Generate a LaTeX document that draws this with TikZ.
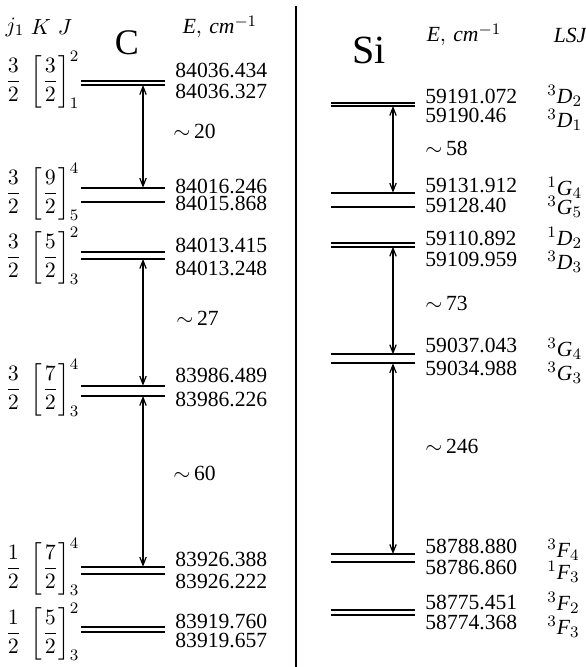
\documentclass[tikz,border=0pt]{standalone}
\usepackage{amsmath}
\usepackage{fontspec}
\setmainfont{Liberation Serif}
\usetikzlibrary{arrows.meta}

\begin{document}
\begin{tikzpicture}[
    x=0.5pt, y=-0.5pt,
    >={Straight Barb[length=4pt,width=3.2pt]},
    font=\fontsize{10.8}{13}\selectfont,
    lvl/.style ={line width=0.85pt},
    arr/.style ={<->, line width=0.6pt},
    en/.style  ={anchor=west, inner sep=0pt},
    gap/.style ={anchor=west, inner sep=0pt},
    term/.style={anchor=west, inner sep=0pt},
    jk/.style  ={anchor=west, inner sep=0pt},
    hdr/.style ={inner sep=0pt},
    big/.style ={inner sep=0pt, font=\fontsize{18}{20}\selectfont},
]
\useasboundingbox (0,0) rectangle (585,667);

% ---- Divider ----
\coordinate (divtop) at (296,6);
\coordinate (divbot) at (296,667);
\draw[line width=1.2pt] (divtop) -- (divbot);

% ---- C: headers ----
\node[hdr] (hj) at (15,27) {$j_1$};
\node[hdr] (hK) at (41,27) {$K$};
\node[hdr] (hJ) at (65,27) {$J$};
\node[big] (elC) at (127,42.5) {C};
\node[hdr] (hdrEC) at (220,27) {$\mathit{E},\,\mathit{cm}^{-1}$};

% ---- C: levels ----
\foreach \y in {80.7,85,187.7,202.3,252.3,259,385.7,396,566.7,574.3,627.3,631.7}
  \draw[lvl] (81,\y) -- (165,\y);

\coordinate (c1) at (143,85);
\coordinate (c2) at (143,187.7);
\coordinate (c3) at (143,259);
\coordinate (c4) at (143,385.7);
\coordinate (c5) at (143,396);
\coordinate (c6) at (143,566.7);

\draw[arr] (c1) -- (c2);
\draw[arr] (c3) -- (c4);
\draw[arr] (c5) -- (c6);

\node[gap] (gC1) at (173,131.7) {$\sim$\,20};
\node[gap] (gC2) at (176,318) {$\sim$\,27};
\node[gap] (gC3) at (173,473) {$\sim$\,60};

% ---- C: coupling labels ----
\node[jk] (jC1) at (5,80)  {$\dfrac{3}{2}\;\left[\dfrac{3}{2}\right]_1^2$};
\node[jk] (jC2) at (5,192) {$\dfrac{3}{2}\;\left[\dfrac{9}{2}\right]_5^4$};
\node[jk] (jC3) at (5,256) {$\dfrac{3}{2}\;\left[\dfrac{5}{2}\right]_3^2$};
\node[jk] (jC4) at (5,388) {$\dfrac{3}{2}\;\left[\dfrac{7}{2}\right]_3^4$};
\node[jk] (jC5) at (5,567) {$\dfrac{1}{2}\;\left[\dfrac{7}{2}\right]_3^4$};
\node[jk] (jC6) at (5,632) {$\dfrac{1}{2}\;\left[\dfrac{5}{2}\right]_3^2$};

% ---- C: energies ----
\node[en] (eC1)  at (175,70)    {84036.434};
\node[en] (eC2)  at (175,91.7)  {84036.327};
\node[en] (eC3)  at (175,186)   {84016.246};
\node[en] (eC4)  at (175,203)   {84015.868};
\node[en] (eC5)  at (175,245)   {84013.415};
\node[en] (eC6)  at (175,268.3) {84013.248};
\node[en] (eC7)  at (175,375)   {83986.489};
\node[en] (eC8)  at (175,399)   {83986.226};
\node[en] (eC9)  at (175,559.3) {83926.388};
\node[en] (eC10) at (175,581.7) {83926.222};
\node[en] (eC11) at (175,621)   {83919.760};
\node[en] (eC12) at (175,640)   {83919.657};

% ---- Si: headers ----
\node[big, font=\fontsize{20}{22}\selectfont] (elSi) at (369,50) {Si};
\node[hdr] (hdrESi) at (464,35) {$\mathit{E},\,\mathit{cm}^{-1}$};
\node[hdr] (hdrLSJ) at (570,35) {\itshape LSJ};

% ---- Si: levels ----
\foreach \y in {103.3,106,192.7,207.3,243.3,246.7,354.3,363.3,554,561.7,610,615}
  \draw[lvl] (331,\y) -- (415,\y);

\coordinate (s1) at (393,106);
\coordinate (s2) at (393,192.7);
\coordinate (s3) at (393,246.7);
\coordinate (s4) at (393,354.3);
\coordinate (s5) at (393,363.3);
\coordinate (s6) at (393,554);

\draw[arr] (s1) -- (s2);
\draw[arr] (s3) -- (s4);
\draw[arr] (s5) -- (s6);

\node[gap] (gS1) at (425,148)   {$\sim$\,58};
\node[gap] (gS2) at (425,303.3) {$\sim$\,73};
\node[gap] (gS3) at (425,446.7) {$\sim$\,246};

% ---- Si: energies ----
\node[en] (eS1)  at (425,96.7)  {59191.072};
\node[en] (eS2)  at (425,115)   {59190.46};
\node[en] (eS3)  at (425,186)   {59131.912};
\node[en] (eS4)  at (425,205.5) {59128.40};
\node[en] (eS5)  at (425,238)   {59110.892};
\node[en] (eS6)  at (425,259.3) {59109.959};
\node[en] (eS7)  at (425,345)   {59037.043};
\node[en] (eS8)  at (425,368.3) {59034.988};
\node[en] (eS9)  at (425,546.7) {58788.880};
\node[en] (eS10) at (425,567.3) {58786.860};
\node[en] (eS11) at (425,602.7) {58775.451};
\node[en] (eS12) at (425,622.7) {58774.368};

% ---- Si: terms ----
\node[term] (tS1)  at (547,96)  {$^{3}\mathit{D}_2$};
\node[term] (tS2)  at (547,120) {$^{3}\mathit{D}_1$};
\node[term] (tS3)  at (547,188) {$^{1}\mathit{G}_4$};
\node[term] (tS4)  at (547,207) {$^{3}\mathit{G}_5$};
\node[term] (tS5)  at (547,238) {$^{1}\mathit{D}_2$};
\node[term] (tS6)  at (547,262) {$^{3}\mathit{D}_3$};
\node[term] (tS7)  at (547,349) {$^{3}\mathit{G}_4$};
\node[term] (tS8)  at (547,373) {$^{3}\mathit{G}_3$};
\node[term] (tS9)  at (547,550) {$^{3}\mathit{F}_4$};
\node[term] (tS10) at (547,572) {$^{1}\mathit{F}_3$};
\node[term] (tS11) at (547,603) {$^{3}\mathit{F}_2$};
\node[term] (tS12) at (547,627) {$^{3}\mathit{F}_3$};

\end{tikzpicture}
\end{document}
